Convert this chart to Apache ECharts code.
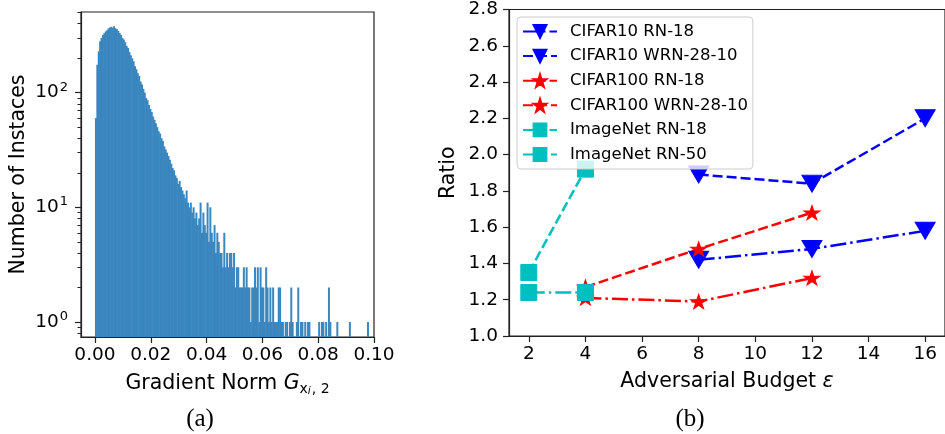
<!DOCTYPE html>
<html>
<head>
<meta charset="utf-8">
<script src="https://cdn.jsdelivr.net/npm/echarts@6/dist/echarts.min.js"></script>
<style>
  html, body { margin: 0; padding: 0; background: #fff; }
  #chart { width: 945px; height: 434px; }
</style>
</head>
<body>
<div id="chart"></div>
<script>
// (a) histogram of gradient norms, bins of width 0.0005 starting at 0
const binWidth = 0.0005;
const histCounts = [
  60, 175, 230, 280, 300, 318, 330, 342, 350, 362,
  370, 376, 368, 380, 365, 358, 345, 332, 318, 300,
  290, 275, 255, 245, 226, 212, 200, 188, 170, 160,
  148, 140, 125, 118, 108, 100, 90, 86, 78, 72,
  68, 62, 58, 54, 50, 46, 44, 40, 38, 34,
  32, 30, 28, 26, 24, 22, 21, 19, 18, 16,
  17, 15, 14, 13, 12, 14, 11, 10, 11, 9,
  10, 8, 9, 7, 8, 11, 6, 9, 7, 6,
  11, 5, 10, 6, 5, 7, 4, 6, 5, 4,
  4, 3, 6, 3, 4, 3, 4, 4, 3, 4,
  2, 3, 3, 2, 2, 2, 3, 2, 3, 2,
  2, 1, 2, 2, 3, 2, 3, 1, 3, 2,
  2, 1, 3, 2, 1, 2, 1, 2, 1, 1,
  1, 2, 2, 1, 1, 0, 1, 1, 0, 1,
  2, 1, 0, 0, 1, 2, 0, 1, 1, 0,
  1, 0, 1, 1, 0, 0, 0, 0, 0, 0,
  1, 0, 1, 1, 0, 1, 0, 2, 1, 0,
  0, 0, 0, 1, 0, 0, 0, 0, 0, 0,
  0, 0, 1, 0, 0, 0, 0, 0, 0, 0,
  0, 0, 0, 0, 0, 1, 0, 0, 0, 0
];
const histTicks = [0, 0.02, 0.04, 0.06, 0.08, 0.10];
const logMajor = [1, 10, 100];
const logMinor = [0.8, 0.9, 2, 3, 4, 5, 6, 7, 8, 9, 20, 30, 40, 50, 60, 70, 80, 90, 200, 300, 400, 500];

// (b) ratio vs adversarial budget
const budgets = [2, 4, 8, 12, 16];
const budgetTicks = [2, 4, 6, 8, 10, 12, 14, 16];
const cifar10Rn18 = [null, null, 1.42, 1.48, 1.58];
const cifar10Wrn = [null, null, 1.89, 1.84, 2.20];
const cifar100Rn18 = [null, 1.21, 1.19, 1.32, null];
const cifar100Wrn = [null, 1.27, 1.48, 1.68, null];
const imagenetRn18 = [1.24, 1.24, null, null, null];
const imagenetRn50 = [1.35, 1.92, null, null, null];

const histData = histCounts
  .map((c, i) => [i * binWidth, (i + 1) * binWidth, c])
  .filter(d => d[2] > 0);

const pairs = arr => budgets.map((b, i) => [b, arr[i]]).filter(d => d[1] !== null);

const STAR = 'path://M100 0 L122.45 69.1 L195.1 69.1 L136.3 111.8 L158.8 180.9 L100 138.2 L41.2 180.9 L63.7 111.8 L4.9 69.1 L77.55 69.1 Z';
const DASH = [10, 4];
const DASHDOT = [16, 4, 2.5, 4];
const FONT = 'DejaVu Sans';
const TICK_FS = 18.5;
const NAME_FS = 20.5;
const LOG_MIN = 0.74, LOG_MAX = 505;
const axisColor = '#222';

function lineSeries(name, arr, color, dash, symbol, size, rotate) {
  return {
    name, type: 'line', xAxisIndex: 1, yAxisIndex: 2,
    data: pairs(arr),
    color,
    symbol, symbolSize: size, symbolRotate: rotate || 0, symbolKeepAspect: true,
    lineStyle: { color, width: 2.5, type: dash },
    itemStyle: { color, borderColor: color, borderWidth: 1 },
    emphasis: { disabled: true }
  };
}

const chart = echarts.init(document.getElementById('chart'));

chart.setOption({
  animation: false,
  textStyle: { fontFamily: FONT, color: '#000' },
  grid: [
    { left: 81, top: 12, width: 293, height: 325, show: true, borderColor: axisColor, borderWidth: 1.2, backgroundColor: 'transparent' },
    { left: 509, top: 8, width: 438, height: 328, show: true, borderColor: axisColor, borderWidth: 1.2, backgroundColor: 'transparent' }
  ],
  xAxis: [
    {
      gridIndex: 0, type: 'value', min: -0.005, max: 0.1,
      name: '{n|Gradient Norm }{g|G}{s|x}{ss|i}{s|, 2}',
      nameLocation: 'middle', nameGap: 33,
      nameTextStyle: {
        rich: {
          n: { fontSize: NAME_FS, fontFamily: FONT },
          g: { fontSize: NAME_FS, fontFamily: FONT, fontStyle: 'italic' },
          s: { fontSize: 14, fontFamily: FONT, padding: [11, 0, 0, 0] },
          ss: { fontSize: 10.5, fontFamily: FONT, fontStyle: 'italic', padding: [16, 1, 0, 0] }
        }
      },
      axisLine: { show: true, onZero: false, lineStyle: { color: axisColor, width: 1.2 } },
      axisTick: { show: true, length: 6, customValues: histTicks, lineStyle: { color: axisColor, width: 1.2 } },
      axisLabel: { customValues: histTicks, fontSize: TICK_FS, color: '#000', margin: 9, formatter: v => v.toFixed(2) },
      splitLine: { show: false }
    },
    {
      gridIndex: 1, type: 'value', min: 1.3, max: 16.7,
      name: '{n|Adversarial Budget }{e|ε}',
      nameLocation: 'middle', nameGap: 35,
      nameTextStyle: {
        rich: {
          n: { fontSize: NAME_FS, fontFamily: FONT },
          e: { fontSize: NAME_FS, fontFamily: FONT, fontStyle: 'italic' }
        }
      },
      axisLine: { show: true, onZero: false, lineStyle: { color: axisColor, width: 1.2 } },
      axisTick: { show: true, length: 6, customValues: budgetTicks, lineStyle: { color: axisColor, width: 1.2 } },
      axisLabel: { customValues: budgetTicks, fontSize: TICK_FS, color: '#000', margin: 9 },
      splitLine: { show: false }
    }
  ],
  yAxis: [
    {
      gridIndex: 0, type: 'log', min: LOG_MIN, max: LOG_MAX, logBase: 10,
      name: 'Number of Instaces', nameLocation: 'middle', nameGap: 52,
      nameTextStyle: { fontSize: NAME_FS, fontFamily: FONT },
      axisLine: { show: true, onZero: false, lineStyle: { color: axisColor, width: 1.2 } },
      axisTick: { show: true, length: 6, customValues: logMajor, lineStyle: { color: axisColor, width: 1.2 } },
      axisLabel: {
        customValues: logMajor, margin: 13,
        formatter: v => '{b|10}{s|' + Math.round(Math.log10(v)) + '}',
        rich: {
          b: { fontSize: TICK_FS, fontFamily: FONT, color: '#000' },
          s: { fontSize: 13, fontFamily: FONT, color: '#000', padding: [0, 0, 11, 1] }
        }
      },
      splitLine: { show: false }
    },
    {
      gridIndex: 0, type: 'log', min: LOG_MIN, max: LOG_MAX, logBase: 10, position: 'left',
      axisLine: { show: false, onZero: false },
      axisTick: { show: true, length: 3.5, customValues: logMinor, lineStyle: { color: axisColor, width: 1 } },
      axisLabel: { show: false },
      splitLine: { show: false }
    },
    {
      gridIndex: 1, type: 'value', min: 1.0, max: 2.8, interval: 0.2,
      name: 'Ratio', nameLocation: 'middle', nameGap: 50,
      nameTextStyle: { fontSize: NAME_FS, fontFamily: FONT },
      axisLine: { show: true, onZero: false, lineStyle: { color: axisColor, width: 1.2 } },
      axisTick: { show: true, length: 6, lineStyle: { color: axisColor, width: 1.2 } },
      axisLabel: { fontSize: TICK_FS, color: '#000', margin: 11, formatter: v => v.toFixed(1) },
      splitLine: { show: false }
    }
  ],
  legend: {
    left: 517, top: 17, orient: 'vertical',
    padding: [6, 5, 6, 5],
    itemWidth: 34, itemHeight: 16, itemGap: 7.6,
    borderColor: '#ccc', borderWidth: 1, borderRadius: 4,
    backgroundColor: 'rgba(255,255,255,0.8)',
    textStyle: { fontSize: 16.5, fontFamily: FONT, color: '#000', padding: [0, 0, 0, 8] },
    data: ['CIFAR10 RN-18', 'CIFAR10 WRN-28-10', 'CIFAR100 RN-18', 'CIFAR100 WRN-28-10', 'ImageNet RN-18', 'ImageNet RN-50']
  },
  graphic: [
    { type: 'text', x: 200, y: 419, style: { text: '(a)', font: '25px "Liberation Serif"', fill: '#000', align: 'center', verticalAlign: 'middle' } },
    { type: 'text', x: 690, y: 419, style: { text: '(b)', font: '25px "Liberation Serif"', fill: '#000', align: 'center', verticalAlign: 'middle' } }
  ],
  series: [
    {
      type: 'custom', xAxisIndex: 0, yAxisIndex: 0,
      data: histData,
      encode: { x: [0, 1], y: 2 },
      clip: true,
      silent: true,
      renderItem: (params, api) => {
        const p0 = api.coord([api.value(0), LOG_MIN]);
        const p1 = api.coord([api.value(1), api.value(2)]);
        return {
          type: 'rect',
          shape: { x: p0[0], y: p1[1], width: p1[0] - p0[0] + 0.6, height: p0[1] - p1[1] },
          style: { fill: '#3a86bf' }
        };
      }
    },
    lineSeries('CIFAR10 RN-18', cifar10Rn18, '#0000ff', DASHDOT, 'triangle', [20, 17], 180),
    lineSeries('CIFAR10 WRN-28-10', cifar10Wrn, '#0000ff', DASH, 'triangle', [20, 17], 180),
    lineSeries('CIFAR100 RN-18', cifar100Rn18, '#ff0000', DASHDOT, STAR, [16, 15]),
    lineSeries('CIFAR100 WRN-28-10', cifar100Wrn, '#ff0000', DASH, STAR, [16, 15]),
    lineSeries('ImageNet RN-18', imagenetRn18, '#00bfbf', DASHDOT, 'rect', [16, 16]),
    lineSeries('ImageNet RN-50', imagenetRn50, '#00bfbf', DASH, 'rect', [16, 16])
  ]
});
</script>
</body>
</html>
